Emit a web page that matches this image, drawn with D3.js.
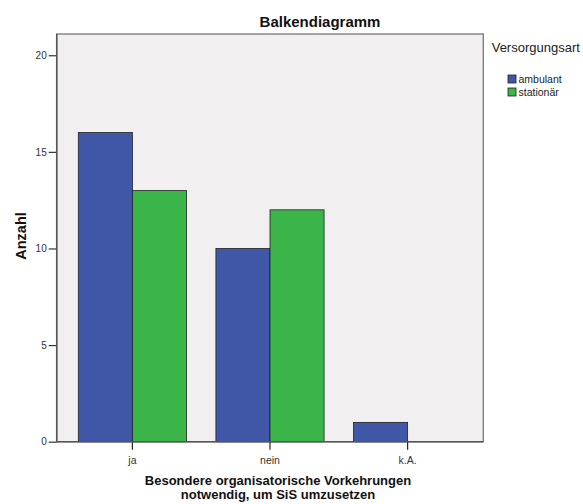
<!DOCTYPE html>
<html><head><meta charset="utf-8">
<script src="https://cdn.jsdelivr.net/npm/d3@7"></script>
<style>body{margin:0;background:#fff}svg{display:block}text{font-family:"Liberation Sans",Arial,sans-serif}</style>
</head><body>
<script>
const categories = ["ja", "nein", "k.A."];
const seriesNames = ["ambulant", "stationär"];
const ambulant = [16, 10, 1];
const stationaer = [13, 12, 0];
const yTicks = [0, 5, 10, 15, 20];
const colors = ["#3f57a6", "#3bb54a"];

const W = 583, H = 504;
const m = {left: 56.7, right: 483.3, top: 34, bottom: 441.7};
const svg = d3.select("body").append("svg").attr("width", W).attr("height", H);

const x = d3.scaleBand().domain(categories).range([m.left, m.right]).paddingInner(0.214).paddingOuter(0.157);
const xs = d3.scaleBand().domain(seriesNames).range([0, x.bandwidth()]);
const y = d3.scaleLinear().domain([0, 21.1]).range([m.bottom, m.top]);

svg.append("rect").attr("x", m.left).attr("y", m.top).attr("width", m.right - m.left).attr("height", m.bottom - m.top)
  .attr("fill", "#f1eff0").attr("stroke", "#777").attr("stroke-width", 1.3);

const data = categories.map((c, i) => ({cat: c, vals: [ambulant[i], stationaer[i]]}));
const g = svg.append("g");
data.forEach(d => {
  d.vals.forEach((v, j) => {
    if (v <= 0) return;
    g.append("rect")
      .attr("x", x(d.cat) + xs(seriesNames[j]))
      .attr("y", y(v))
      .attr("width", xs.bandwidth())
      .attr("height", y(0) - y(v))
      .attr("fill", colors[j]).attr("stroke", "#222").attr("stroke-width", 0.8);
  });
});

// y axis
const ya = svg.append("g").attr("transform", `translate(${m.left},0)`)
  .call(d3.axisLeft(y).tickValues(yTicks).tickSize(8).tickSizeOuter(0));
ya.select(".domain").remove();
ya.selectAll(".tick line").attr("stroke", "#333").attr("stroke-width", 1.2);
ya.selectAll(".tick text").attr("font-size", 10).attr("fill", "#333").attr("dx", "1").attr("font-family", "Liberation Sans, Arial, sans-serif");

// x axis
const xa = svg.append("g").attr("transform", `translate(0,${m.bottom})`)
  .call(d3.axisBottom(x).tickSize(8).tickSizeOuter(0));
xa.select(".domain").remove();
xa.selectAll(".tick line").attr("stroke", "#222").attr("stroke-width", 1.2);
xa.selectAll(".tick text").attr("font-size", 10.5).attr("fill", "#333").attr("dy", "1.05em").attr("font-family", "Liberation Sans, Arial, sans-serif");

// axis base lines
svg.append("line").attr("x1", m.left).attr("x2", m.right).attr("y1", m.bottom).attr("y2", m.bottom).attr("stroke", "#555").attr("stroke-width", 1.5);
svg.append("line").attr("x1", m.left).attr("x2", m.left).attr("y1", m.top).attr("y2", m.bottom).attr("stroke", "#555").attr("stroke-width", 1.5);

// title
svg.append("text").attr("x", 320).attr("y", 26.5).attr("text-anchor", "middle")
  .attr("font-size", 15).attr("font-weight", "bold").attr("fill", "#111").text("Balkendiagramm");

// y title
svg.append("text").attr("transform", "translate(25.5,236) rotate(-90)").attr("text-anchor", "middle")
  .attr("font-size", 14.5).attr("font-weight", "bold").attr("fill", "#111").text("Anzahl");

// x title
const xt = svg.append("text").attr("text-anchor", "middle").attr("font-size", 13).attr("font-weight", "bold").attr("fill", "#111");
xt.append("tspan").attr("x", 278).attr("y", 485).text("Besondere organisatorische Vorkehrungen");
xt.append("tspan").attr("x", 278).attr("y", 498.5).text("notwendig, um SiS umzusetzen");

// legend
svg.append("text").attr("x", 491.7).attr("y", 51.5).attr("font-size", 13).attr("fill", "#222").text("Versorgungsart");
const lg = svg.append("g");
seriesNames.forEach((s, i) => {
  lg.append("rect").attr("x", 508).attr("y", 75 + i * 13).attr("width", 8).attr("height", 8)
    .attr("fill", colors[i]).attr("stroke", "#222").attr("stroke-width", 0.8);
  lg.append("text").attr("x", 518.5).attr("y", 83 + i * 13).attr("font-size", 10.5).attr("fill", "#222").text(s);
});
</script>
</body></html>
